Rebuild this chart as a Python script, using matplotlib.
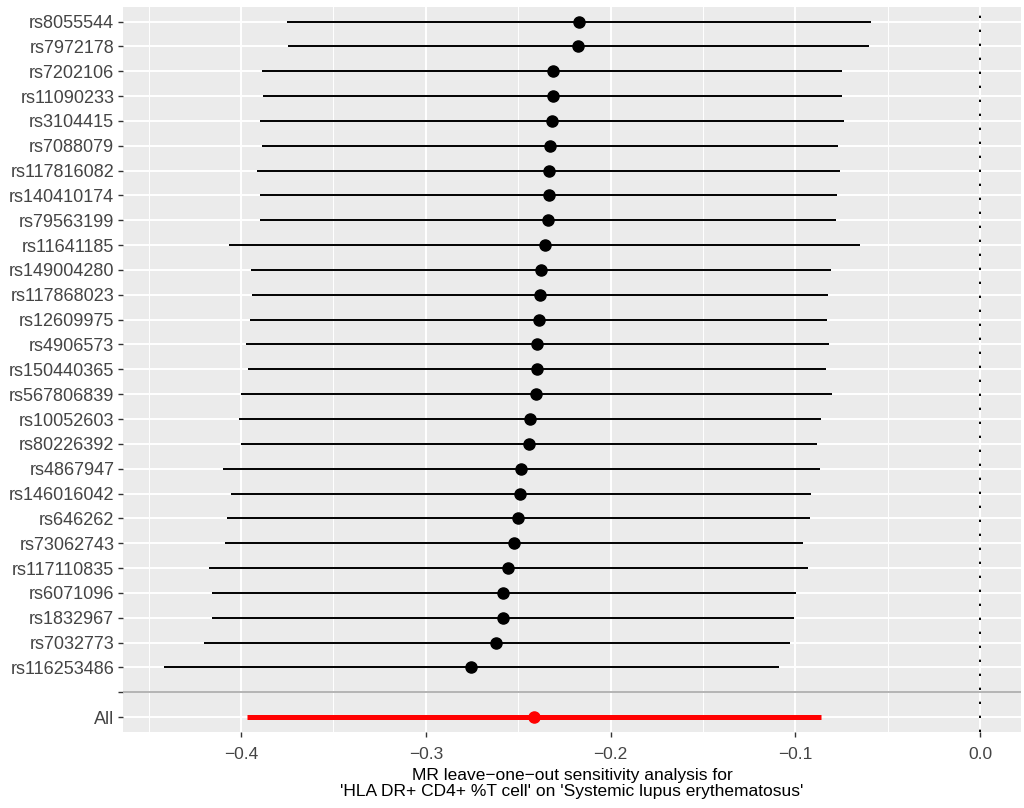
import numpy as np
import matplotlib
matplotlib.use("Agg")
import matplotlib.pyplot as plt
from matplotlib.ticker import MultipleLocator, FuncFormatter

plt.rcParams['font.family'] = ['Liberation Sans', 'DejaVu Sans']

# leave-one-out estimates, top to bottom
snps = ['rs8055544', 'rs7972178', 'rs7202106', 'rs11090233', 'rs3104415', 'rs7088079',
        'rs117816082', 'rs140410174', 'rs79563199', 'rs11641185', 'rs149004280',
        'rs117868023', 'rs12609975', 'rs4906573', 'rs150440365', 'rs567806839',
        'rs10052603', 'rs80226392', 'rs4867947', 'rs146016042', 'rs646262',
        'rs73062743', 'rs117110835', 'rs6071096', 'rs1832967', 'rs7032773', 'rs116253486']
b = [-0.2172, -0.2175, -0.2312, -0.2314, -0.2316, -0.2327, -0.2334, -0.2336, -0.2340,
     -0.2354, -0.2376, -0.2381, -0.2390, -0.2396, -0.2399, -0.2403, -0.2435, -0.2443,
     -0.2484, -0.2488, -0.2500, -0.2524, -0.2553, -0.2580, -0.2584, -0.2618, -0.2755]
lo = [-0.3752, -0.3743, -0.3884, -0.3883, -0.3899, -0.3888, -0.3915, -0.3897, -0.3899,
      -0.4063, -0.3944, -0.3940, -0.3953, -0.3971, -0.3960, -0.4000, -0.4009, -0.4000,
      -0.4096, -0.4056, -0.4078, -0.4085, -0.4173, -0.4157, -0.4157, -0.4199, -0.4416]
hi = [-0.0591, -0.0602, -0.0746, -0.0750, -0.0737, -0.0772, -0.0759, -0.0775, -0.0782,
      -0.0649, -0.0808, -0.0822, -0.0829, -0.0817, -0.0835, -0.0802, -0.0862, -0.0882,
      -0.0867, -0.0918, -0.0921, -0.0961, -0.0930, -0.0999, -0.1010, -0.1030, -0.1091]

all_b = -0.2415
all_lo = -0.3967
all_hi = -0.0862

exposure = "HLA DR+ CD4+ %T cell"
outcome = "Systemic lupus erythematosus"

# y levels like ggplot: All=1, blank=2, snps 3..n+2 (first snp on top)
n = len(snps)
y_snp = np.arange(n + 2, 2, -1)
y_blank = 2
y_all = 1

fig = plt.figure(figsize=(10.24, 8.08), dpi=100)
ax = fig.add_axes([0.1204, 0.0941, 0.8767, 0.8976])
ax.set_facecolor('#EBEBEB')
for s in ax.spines.values():
    s.set_visible(False)

# x range with 5% expansion like ggplot
xmin = min(min(lo), all_lo, 0)
xmax = max(max(hi), all_hi, 0)
pad = 0.05 * (xmax - xmin)
ax.set_xlim(xmin - pad, xmax + pad)
ax.set_ylim(0.4, n + 2 + 0.6)

ax.xaxis.set_major_locator(MultipleLocator(0.1))
ax.xaxis.set_minor_locator(MultipleLocator(0.05))
ax.set_yticks([y_all, y_blank] + list(y_snp))
ax.set_yticklabels(['All', ''] + snps)
ax.grid(which='major', color='white', lw=1.4, zorder=0)
ax.grid(which='minor', axis='x', color='white', lw=0.7, zorder=0)
ax.set_axisbelow(True)

ax.tick_params(axis='both', which='major', length=3.5, width=1, color='#333333',
               labelcolor='#444444')
ax.tick_params(axis='y', labelsize=13, pad=3)
ax.tick_params(axis='x', labelsize=12.5, pad=7)
ax.tick_params(axis='both', which='minor', length=0)
ax.xaxis.set_major_formatter(FuncFormatter(lambda v, p: ('%.1f' % v).replace('-', '\u2212')))

ax.axvline(0, color='black', lw=1.4, linestyle=(0, (1.2, 6)), zorder=2)
ax.axhline(y_blank, color='#B3B3B3', lw=1.4, zorder=2)

ax.hlines(y_snp, lo, hi, color='black', lw=1.4, zorder=3)
ax.plot(b, y_snp, 'o', color='black', ms=8, zorder=4)

ax.hlines(y_all, all_lo, all_hi, color='red', lw=3.6, zorder=3)
ax.plot([all_b], [y_all], 'o', color='red', ms=8, zorder=4)

ax.set_xlabel("MR leave\u2212one\u2212out sensitivity analysis for\n'" + exposure + "' on '" + outcome + "'",
              fontsize=12.5, color='black', labelpad=5, linespacing=1.05)

fig.savefig('out.png', dpi=100)
